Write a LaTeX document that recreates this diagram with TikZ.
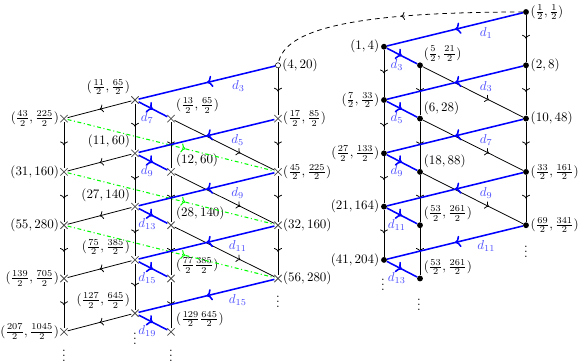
\documentclass[tikz,border=0pt]{standalone}
\usepackage{amsmath,amssymb}
\usepackage{tikz}
\usetikzlibrary{arrows.meta,positioning,shapes.misc,decorations.markings}

\begin{document}
\begin{tikzpicture}[
      x=0.77pt,y=-0.77pt,
      dot/.style={circle,fill,inner sep=0pt,minimum size=4.5pt},
      crs/.style={cross out,draw=black!70,semithick,inner sep=0pt,minimum size=5pt},
      hole/.style={circle,draw,fill=white,inner sep=0pt,minimum size=4pt},
      every label/.style={inner sep=1pt},
      label distance=0pt,
      dlab/.style={text=blue!70,inner sep=3pt},
      vd/.style={inner sep=0pt},
      midarr/.style={postaction={decorate},
        decoration={markings,mark=at position #1 with {\arrow{>}}}},
      blu/.style={blue,line width=1.2pt,midarr=0.5},
      blk/.style={semithick,midarr=#1},
      blk/.default=0.5,
      grn/.style={green,thick,dash dot,midarr=0.57},
    ]
    \useasboundingbox (0,0) rectangle (581,363);

    % right lattice: outer column
    \node[dot,label=right:{$(\frac12,\frac12)$}] (r0) at (526,12) {};
    \node[dot,label=right:{$(2,8)$}] (r1) at (526,65.3) {};
    \node[dot,label=right:{$(10,48)$}] (r2) at (526,118.6) {};
    \node[dot,label=right:{$(\frac{33}{2},\frac{161}{2})$}] (r3) at (526,171.9) {};
    \node[dot,label=right:{$(\frac{69}{2},\frac{341}{2})$}] (r4) at (526,225.2) {};
    % right lattice: left column
    \node[dot,label=left:{$(1,4)$}] (l0) at (384,46.7) {};
    \node[dot,label=left:{$(\frac72,\frac{33}{2})$}] (l1) at (384,100) {};
    \node[dot,label=left:{$(\frac{27}{2},\frac{133}{2})$}] (l2) at (384,153.3) {};
    \node[dot,label=left:{$(21,164)$}] (l3) at (384,206.6) {};
    \node[dot,label=left:{$(41,204)$}] (l4) at (384,259.9) {};
    % right lattice: middle column
    \node[dot,label=above right:{$(\frac52,\frac{21}{2})$}] (m0) at (420,65.3) {};
    \node[dot,label=above right:{$(6,28)$}] (m1) at (420,118.6) {};
    \node[dot,label=above right:{$(18,88)$}] (m2) at (420,171.9) {};
    \node[dot,label=above right:{$(\frac{53}{2},\frac{261}{2})$}] (m3) at (420,225.2) {};
    \node[dot,label=above right:{$(\frac{53}{2},\frac{261}{2})$}] (m4) at (420,278.5) {};

    % left lattice: outer column
    \node[hole,label=right:{$(4,20)$}] (d0) at (278,65.3) {};
    \node[crs,label=right:{$(\frac{17}{2},\frac{85}{2})$}] (d1) at (278,118.6) {};
    \node[crs,label=right:{$(\frac{45}{2},\frac{225}{2})$}] (d2) at (278,171.9) {};
    \node[crs,label=right:{$(32,160)$}] (d3) at (278,225.2) {};
    \node[crs,label=right:{$(56,280)$}] (d4) at (278,278.5) {};
    % left lattice: second column
    \node[crs,label=above left:{$(\frac{11}{2},\frac{65}{2})$}] (b0) at (135,100) {};
    \node[crs,label=above left:{$(11,60)$}] (b1) at (135,153.3) {};
    \node[crs,label=above left:{$(27,140)$}] (b2) at (135,206.6) {};
    \node[crs,label=above left:{$(\frac{75}{2},\frac{385}{2})$}] (b3) at (135,259.9) {};
    \node[crs,label=above left:{$(\frac{127}{2},\frac{645}{2})$}] (b4) at (135,313.2) {};
    % left lattice: third column
    \node[crs,label=above right:{$(\frac{13}{2},\frac{65}{2})$}] (c0) at (171,118.6) {};
    \node[crs,label=above right:{$(12,60)$}] (c1) at (171,171.9) {};
    \node[crs,label=above right:{$(28,140)$}] (c2) at (171,225.2) {};
    \node[crs,label=above right:{$(\frac{77}{2}\frac{385}{2})$}] (c3) at (171,278.5) {};
    \node[crs,label=above right:{$(\frac{129}{2}\frac{645}{2})$}] (c4) at (171,331.8) {};
    % left lattice: far left column
    \node[crs,label=left:{$(\frac{43}{2},\frac{225}{2})$}] (a0) at (64,118.6) {};
    \node[crs,label=left:{$(31,160)$}] (a1) at (64,171.9) {};
    \node[crs,label=left:{$(55,280)$}] (a2) at (64,225.2) {};
    \node[crs,label=left:{$(\frac{139}{2},\frac{705}{2})$}] (a3) at (64,278.5) {};
    \node[crs,label=left:{$(\frac{207}{2},\frac{1045}{2})$}] (a4) at (64,331.8) {};

    % continuation dots
    \node[vd] (rv) at (526,248) {$\vdots$};
    \node[vd] (lv) at (383,281) {$\vdots$};
    \node[vd] (mv) at (419,301) {$\vdots$};
    \node[vd] (dv) at (278,298) {$\vdots$};
    \node[vd] (bv) at (135,335) {$\vdots$};
    \node[vd] (cv) at (171,352) {$\vdots$};
    \node[vd] (av) at (64,352) {$\vdots$};

    % vertical chains
    \foreach \a/\b in {0/1,1/2,2/3,3/4} {
      \draw[blk] (r\a) -- (r\b);
      \draw[blk] (l\a) -- (l\b);
      \draw[blk] (m\a) -- (m\b);
      \draw[blk] (a\a) -- (a\b);
      \draw[blk] (b\a) -- (b\b);
      \draw[blk] (c\a) -- (c\b);
      \draw[blk] (d\a) -- (d\b);
    }

    % link between the two lattices
    \draw[semithick,dash pattern=on 3.5pt off 3pt,midarr=0.47]
      (r0) .. controls (350,12) and (285,30) .. (d0);

    % right lattice steps
    \draw[blu] (r0) -- (l0) node[pos=0.27,below=1pt,dlab] {$d_1$};
    \draw[blu] (l0) -- (m0) node[pos=0.33,below=1pt,dlab] {$d_3$};
    \draw[blk=0.66] (m0) -- (r2);
    \draw[blu] (r1) -- (l1) node[pos=0.27,below=1pt,dlab] {$d_3$};
    \draw[blu] (l1) -- (m1) node[pos=0.33,below=1pt,dlab] {$d_5$};
    \draw[blk=0.66] (m1) -- (r3);
    \draw[blu] (r2) -- (l2) node[pos=0.27,below=1pt,dlab] {$d_7$};
    \draw[blu] (l2) -- (m2) node[pos=0.33,below=1pt,dlab] {$d_9$};
    \draw[blk=0.66] (m2) -- (r4);
    \draw[blu] (r3) -- (l3) node[pos=0.27,below=1pt,dlab] {$d_9$};
    \draw[blu] (l3) -- (m3) node[pos=0.33,below=1pt,dlab] {$d_{11}$};
    \draw[blu] (r4) -- (l4) node[pos=0.27,below=1pt,dlab] {$d_{11}$};
    \draw[blu] (l4) -- (m4) node[pos=0.33,below=1pt,dlab] {$d_{13}$};

    % left lattice steps
    \draw[grn] (a0) -- (d2);
    \draw[grn] (a1) -- (d3);
    \draw[grn] (a2) -- (d4);
    \draw[blk] (b0) -- (a0);
    \draw[blk] (b1) -- (a1);
    \draw[blk] (b2) -- (a2);
    \draw[blk] (b3) -- (a3);
    \draw[blk] (b4) -- (a4);
    \draw[blk=0.66] (c0) -- (d2);
    \draw[blk=0.66] (c1) -- (d3);
    \draw[blk=0.66] (c2) -- (d4);
    \draw[blu] (d0) -- (b0) node[pos=0.27,below=1pt,dlab] {$d_3$};
    \draw[blu] (b0) -- (c0) node[pos=0.3,below=1pt,dlab] {$d_7$};
    \draw[blu] (d1) -- (b1) node[pos=0.27,below=1pt,dlab] {$d_5$};
    \draw[blu] (b1) -- (c1) node[pos=0.3,below=1pt,dlab] {$d_9$};
    \draw[blu] (d2) -- (b2) node[pos=0.27,below=1pt,dlab] {$d_9$};
    \draw[blu] (b2) -- (c2) node[pos=0.3,below=1pt,dlab] {$d_{13}$};
    \draw[blu] (d3) -- (b3) node[pos=0.27,below=1pt,dlab] {$d_{11}$};
    \draw[blu] (b3) -- (c3) node[pos=0.3,below=1pt,dlab] {$d_{15}$};
    \draw[blu] (d4) -- (b4) node[pos=0.27,below=1pt,dlab] {$d_{15}$};
    \draw[blu] (b4) -- (c4) node[pos=0.3,below=1pt,dlab] {$d_{19}$};
  \end{tikzpicture}
\end{document}
